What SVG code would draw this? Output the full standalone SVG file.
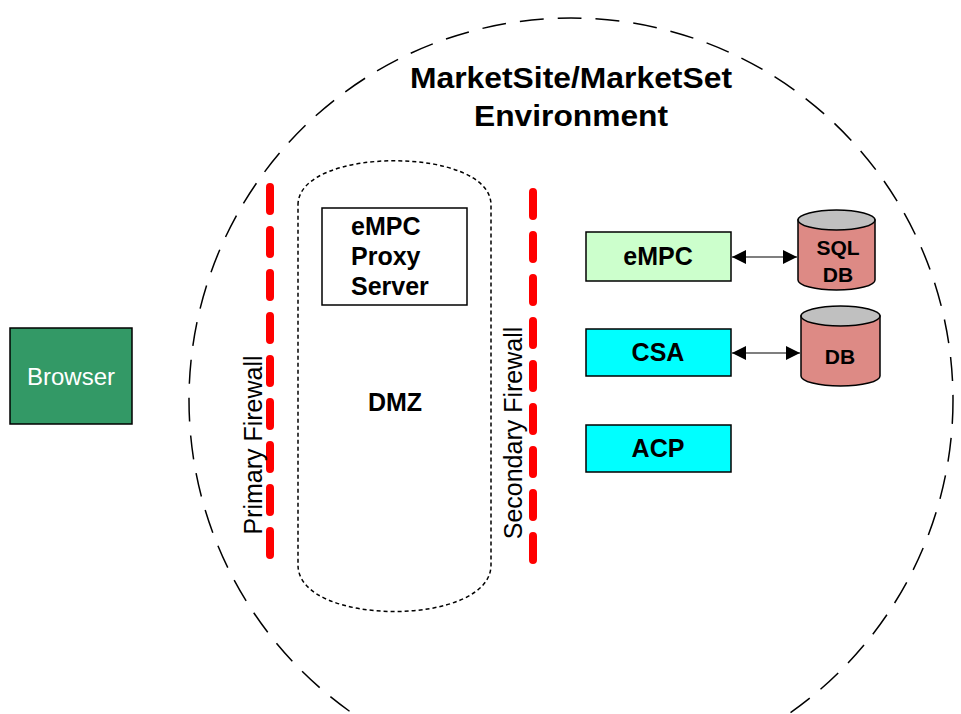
<svg xmlns="http://www.w3.org/2000/svg" width="961" height="714" viewBox="0 0 961 714">
<style>
text{font-family:"Liberation Sans",Arial,sans-serif;fill:#000}
.b{font-weight:bold;font-size:25px}
.fw{fill:none;stroke:#ff0000;stroke-width:8;stroke-linecap:round;stroke-dasharray:24 19}
.box{stroke:#000;stroke-width:1.5}
.cyl{fill:#dd8a85;stroke:#000;stroke-width:1.5}
.top{fill:#c0c0c0;stroke:#000;stroke-width:1.5}
.ln{stroke:#000;stroke-width:1.2;fill:none;marker-start:url(#ah);marker-end:url(#ah)}
.db{font-weight:bold;font-size:21px}
</style>
<defs>
<marker id="ah" viewBox="0 0 10 10" refX="10" refY="5" markerWidth="18" markerHeight="14" markerUnits="userSpaceOnUse" orient="auto-start-reverse"><path d="M0,0 L10,5 L0,10 z" fill="#000"/></marker>
</defs>
<rect width="961" height="714" fill="#fff"/>
<g id="environment">
<ellipse cx="571" cy="400" rx="382" ry="382" fill="none" stroke="#000" stroke-width="1.5" stroke-dasharray="24 14"/>
<text x="571" y="88" text-anchor="middle" font-weight="bold" font-size="29" textLength="322" lengthAdjust="spacingAndGlyphs">MarketSite/MarketSet</text>
<text x="571" y="126" text-anchor="middle" font-weight="bold" font-size="29" textLength="194" lengthAdjust="spacingAndGlyphs">Environment</text>
</g>
<g id="dmz">
<path d="M298,205 C298,146 491,146 491,205 L491,565 C491,627 298,627 298,565 Z" fill="none" stroke="#000" stroke-width="1.5" stroke-dasharray="4 3"/>
<text class="b" x="395" y="411" text-anchor="middle">DMZ</text>
</g>
<g id="proxy">
<rect x="322" y="208" width="145" height="97" fill="#fff" class="box"/>
<text class="b" x="351" y="235">eMPC</text>
<text class="b" x="351" y="265">Proxy</text>
<text class="b" x="351" y="295">Server</text>
</g>
<g id="primary-firewall">
<line class="fw" x1="270" y1="187" x2="270" y2="560"/>
<text transform="translate(262,445) rotate(-90)" text-anchor="middle" font-size="25">Primary Firewall</text>
</g>
<g id="secondary-firewall">
<line class="fw" x1="533" y1="192" x2="533" y2="565"/>
<text transform="translate(522,433) rotate(-90)" text-anchor="middle" font-size="25">Secondary Firewall</text>
</g>
<g id="browser">
<rect x="10" y="328" width="122" height="96" fill="#339966" class="box"/>
<text x="71" y="385" text-anchor="middle" font-size="24" style="fill:#fff">Browser</text>
</g>
<g id="empc">
<rect x="586" y="232" width="145" height="49" fill="#ccffcc" class="box"/>
<text class="b" x="658" y="265" text-anchor="middle">eMPC</text>
</g>
<g id="csa">
<rect x="586" y="329" width="145" height="47" fill="#00ffff" class="box"/>
<text class="b" x="658" y="361" text-anchor="middle">CSA</text>
</g>
<g id="acp">
<rect x="586" y="425" width="145" height="47" fill="#00ffff" class="box"/>
<text class="b" x="658" y="457" text-anchor="middle">ACP</text>
</g>
<g id="sql-db">
<path class="cyl" d="M798,220 L798,280 A38.5,10 0 0 0 875,280 L875,220 Z"/>
<ellipse class="top" cx="836.5" cy="220" rx="38.5" ry="10"/>
<text class="db" x="838" y="255" text-anchor="middle">SQL</text>
<text class="db" x="838" y="282" text-anchor="middle">DB</text>
</g>
<g id="db">
<path class="cyl" d="M801,316 L801,376 A39.5,10 0 0 0 880,376 L880,316 Z"/>
<ellipse class="top" cx="840.5" cy="316" rx="39.5" ry="10"/>
<text class="db" x="840" y="364" text-anchor="middle">DB</text>
</g>
<g id="connectors">
<line class="ln" x1="732" y1="257" x2="797" y2="257"/>
<line class="ln" x1="732" y1="353" x2="800" y2="353"/>
</g>
</svg>
